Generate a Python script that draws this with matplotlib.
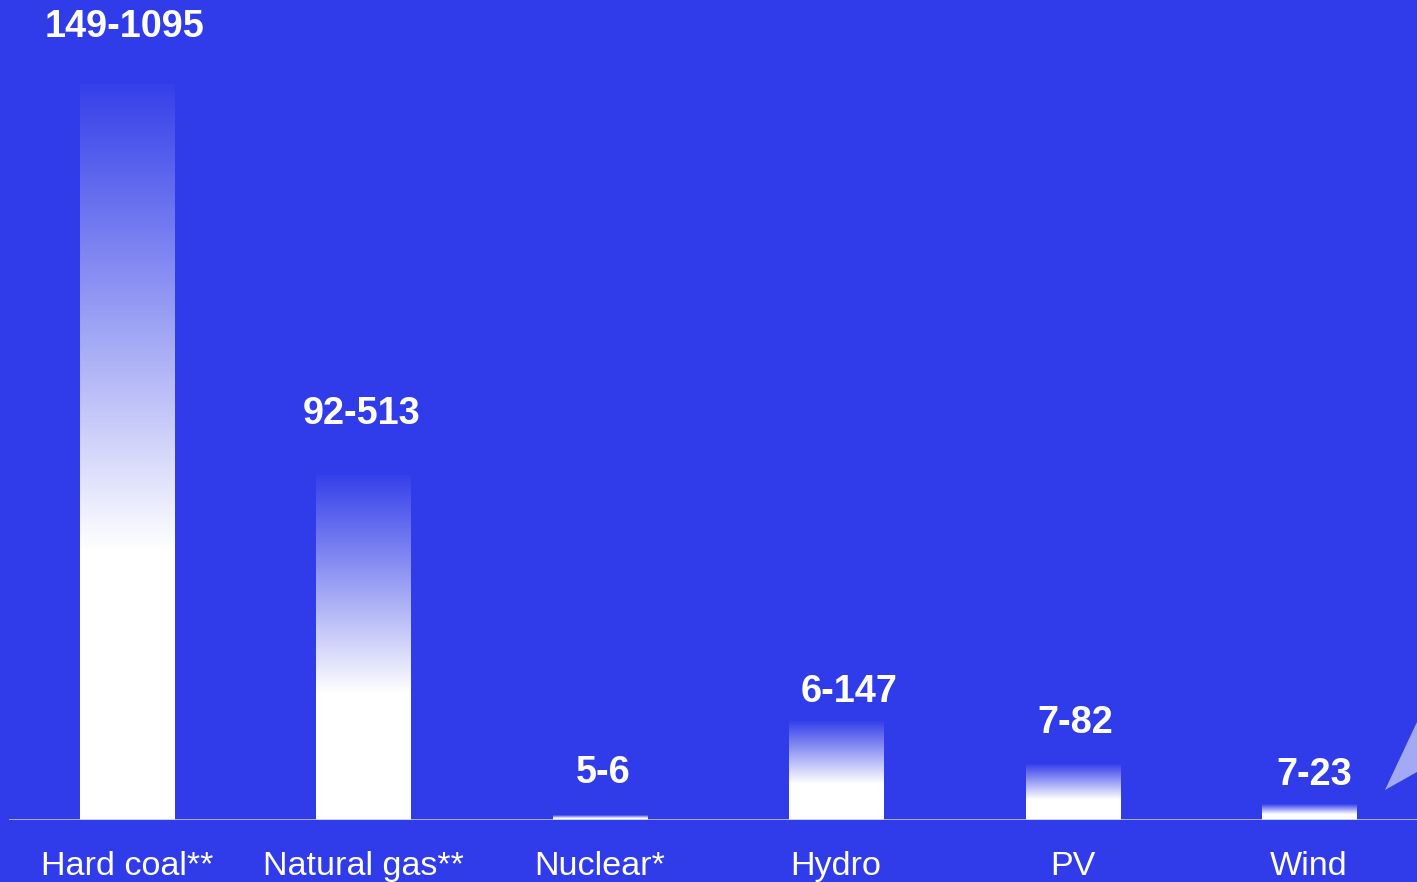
import numpy as np
import matplotlib
matplotlib.use("Agg")
import matplotlib.pyplot as plt
from matplotlib.patches import Polygon

# Emissions ranges per technology (low-high)
categories = ["Hard coal**", "Natural gas**", "Nuclear*", "Hydro", "PV", "Wind"]
low_values = [149, 92, 5, 6, 7, 7]
high_values = [1095, 513, 6, 147, 82, 23]
range_labels = [f"{lo}-{hi}" for lo, hi in zip(low_values, high_values)]

# offset (px) of each range label from the top centre of its bar
label_dx = [-2, -2, 3, 13, 3, 5]
label_dy = [48, 52, 33, 19, 32, 20]

BG = "#303BE9"
W, H, DPI = 1417, 882, 100

plt.rcParams["font.family"] = ["Liberation Sans", "DejaVu Sans"]

fig = plt.figure(figsize=(W / DPI, H / DPI), dpi=DPI, facecolor=BG)
ax = fig.add_axes([9 / W, 62 / H, (W - 9) / W, 820 / H])
ax.set_facecolor(BG)

x = np.arange(len(categories))
bar_w = 0.398
ax.set_xlim(-0.499, 5.457)
ax.set_ylim(0, 1221.6)

# invisible bars give the geometry; the gradient fill is painted on top
bars = ax.bar(x, high_values, width=bar_w, color="none", edgecolor="none")

n = 256
t = np.linspace(0, 1, n)          # 0 = bottom, 1 = top
solid = 0.37
alpha = np.where(t <= solid, 1.0, 1.0 - (t - solid) / (1 - solid) * 0.97)
grad = np.ones((n, 1, 4))
grad[:, 0, 3] = alpha

for rect in bars:
    x0, w, h = rect.get_x(), rect.get_width(), rect.get_height()
    ax.imshow(grad, extent=[x0, x0 + w, 0, h], origin="lower",
              aspect="auto", interpolation="bilinear", zorder=2)

for xi, hi, lab, dx, dy in zip(x, high_values, range_labels, label_dx, label_dy):
    ax.annotate(lab, (xi, hi), xytext=(dx * 72 / DPI, dy * 72 / DPI),
                textcoords="offset points", ha="center", va="baseline",
                color="white", fontsize=27.3, fontweight="bold", zorder=3)

ax.axhline(0, color="#C3C7F2", lw=1.9, zorder=3)

ax.set_xticks(x, categories)
ax.tick_params(axis="x", length=0, pad=22, labelsize=24.6, labelcolor="white")
ax.set_yticks([])
for s in ax.spines.values():
    s.set_visible(False)

# decorative wedge at the right edge
wedge = Polygon([[1385 / W, 1 - 790 / H], [1.0, 1 - 722 / H], [1.0, 1 - 772 / H]],
                closed=True, transform=fig.transFigure, facecolor="#A3A9F5",
                edgecolor="none", zorder=5)
fig.patches.append(wedge)

fig.savefig("out.png", dpi=DPI, facecolor=BG)
